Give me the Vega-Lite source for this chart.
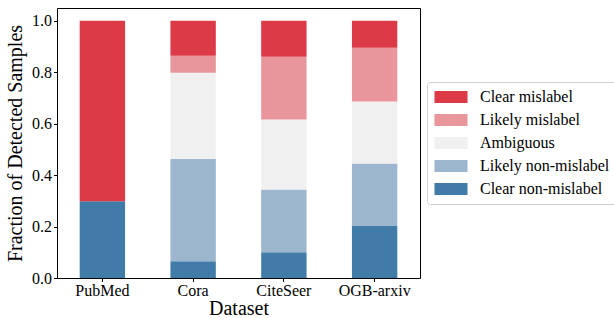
{
  "$schema": "https://vega.github.io/schema/vega-lite/v6.json",
  "width": 363,
  "height": 270,
  "autosize": "none",
  "padding": {"left": 57, "top": 8, "right": 194, "bottom": 40},
  "background": "white",
  "config": {
    "font": "Liberation Serif",
    "view": {"stroke": "black", "strokeWidth": 1},
    "axis": {"grid": false, "domainColor": "black", "tickColor": "black", "labelColor": "black", "titleColor": "black", "labelFont": "Liberation Serif", "titleFont": "Liberation Serif", "titleFontWeight": "normal", "labelFontSize": 16, "titleFontSize": 20, "tickSize": 3.5, "domainWidth": 1, "tickWidth": 1}
  },
  "data": {"values": [
    {"dataset": "PubMed", "category": "Clear non-mislabel", "fraction": 0.298},
    {"dataset": "PubMed", "category": "Likely non-mislabel", "fraction": 0.0},
    {"dataset": "PubMed", "category": "Ambiguous", "fraction": 0.0},
    {"dataset": "PubMed", "category": "Likely mislabel", "fraction": 0.0},
    {"dataset": "PubMed", "category": "Clear mislabel", "fraction": 0.702},
    {"dataset": "Cora", "category": "Clear non-mislabel", "fraction": 0.065},
    {"dataset": "Cora", "category": "Likely non-mislabel", "fraction": 0.399},
    {"dataset": "Cora", "category": "Ambiguous", "fraction": 0.334},
    {"dataset": "Cora", "category": "Likely mislabel", "fraction": 0.066},
    {"dataset": "Cora", "category": "Clear mislabel", "fraction": 0.136},
    {"dataset": "CiteSeer", "category": "Clear non-mislabel", "fraction": 0.100},
    {"dataset": "CiteSeer", "category": "Likely non-mislabel", "fraction": 0.244},
    {"dataset": "CiteSeer", "category": "Ambiguous", "fraction": 0.272},
    {"dataset": "CiteSeer", "category": "Likely mislabel", "fraction": 0.244},
    {"dataset": "CiteSeer", "category": "Clear mislabel", "fraction": 0.140},
    {"dataset": "OGB-arxiv", "category": "Clear non-mislabel", "fraction": 0.204},
    {"dataset": "OGB-arxiv", "category": "Likely non-mislabel", "fraction": 0.241},
    {"dataset": "OGB-arxiv", "category": "Ambiguous", "fraction": 0.241},
    {"dataset": "OGB-arxiv", "category": "Likely mislabel", "fraction": 0.209},
    {"dataset": "OGB-arxiv", "category": "Clear mislabel", "fraction": 0.105}
  ]},
  "transform": [
    {"calculate": "indexof(['Clear non-mislabel', 'Likely non-mislabel', 'Ambiguous', 'Likely mislabel', 'Clear mislabel'], datum.category)", "as": "stackOrder"}
  ],
  "mark": {"type": "bar", "strokeWidth": 0},
  "encoding": {
    "x": {
      "field": "dataset", "type": "nominal",
      "sort": ["PubMed", "Cora", "CiteSeer", "OGB-arxiv"],
      "scale": {"paddingInner": 0.5, "paddingOuter": 0.25},
      "axis": {"title": "Dataset", "labelAngle": 0, "labelPadding": 1, "titlePadding": 0, "domain": false}
    },
    "y": {
      "field": "fraction", "type": "quantitative", "stack": "zero",
      "scale": {"domain": [0, 1.05], "nice": false, "zero": true},
      "axis": {"title": "Fraction of Detected Samples", "values": [0, 0.2, 0.4, 0.6, 0.8, 1.0], "format": ".1f", "labelPadding": 2, "titlePadding": 6, "domain": false}
    },
    "color": {
      "field": "category", "type": "nominal",
      "scale": {
        "domain": ["Clear mislabel", "Likely mislabel", "Ambiguous", "Likely non-mislabel", "Clear non-mislabel"],
        "range": ["#dc3a47", "#e8969c", "#f0f0f0", "#9cb7cd", "#417ca8"]
      },
      "legend": {
        "title": null, "orient": "none", "legendX": 370, "legendY": 74,
        "padding": 7, "strokeColor": "#d0d0d0", "fillColor": "white", "cornerRadius": 3,
        "labelFont": "Liberation Serif", "labelFontSize": 16, "labelColor": "black",
        "labelOffset": 30, "rowPadding": 7,
        "symbolType": "M-0.94,-0.75H3.19V0.75H-0.94Z", "symbolSize": 256, "symbolStrokeWidth": 0, "symbolOpacity": 1
      }
    },
    "order": {"field": "stackOrder", "type": "quantitative", "sort": "ascending"}
  }
}
